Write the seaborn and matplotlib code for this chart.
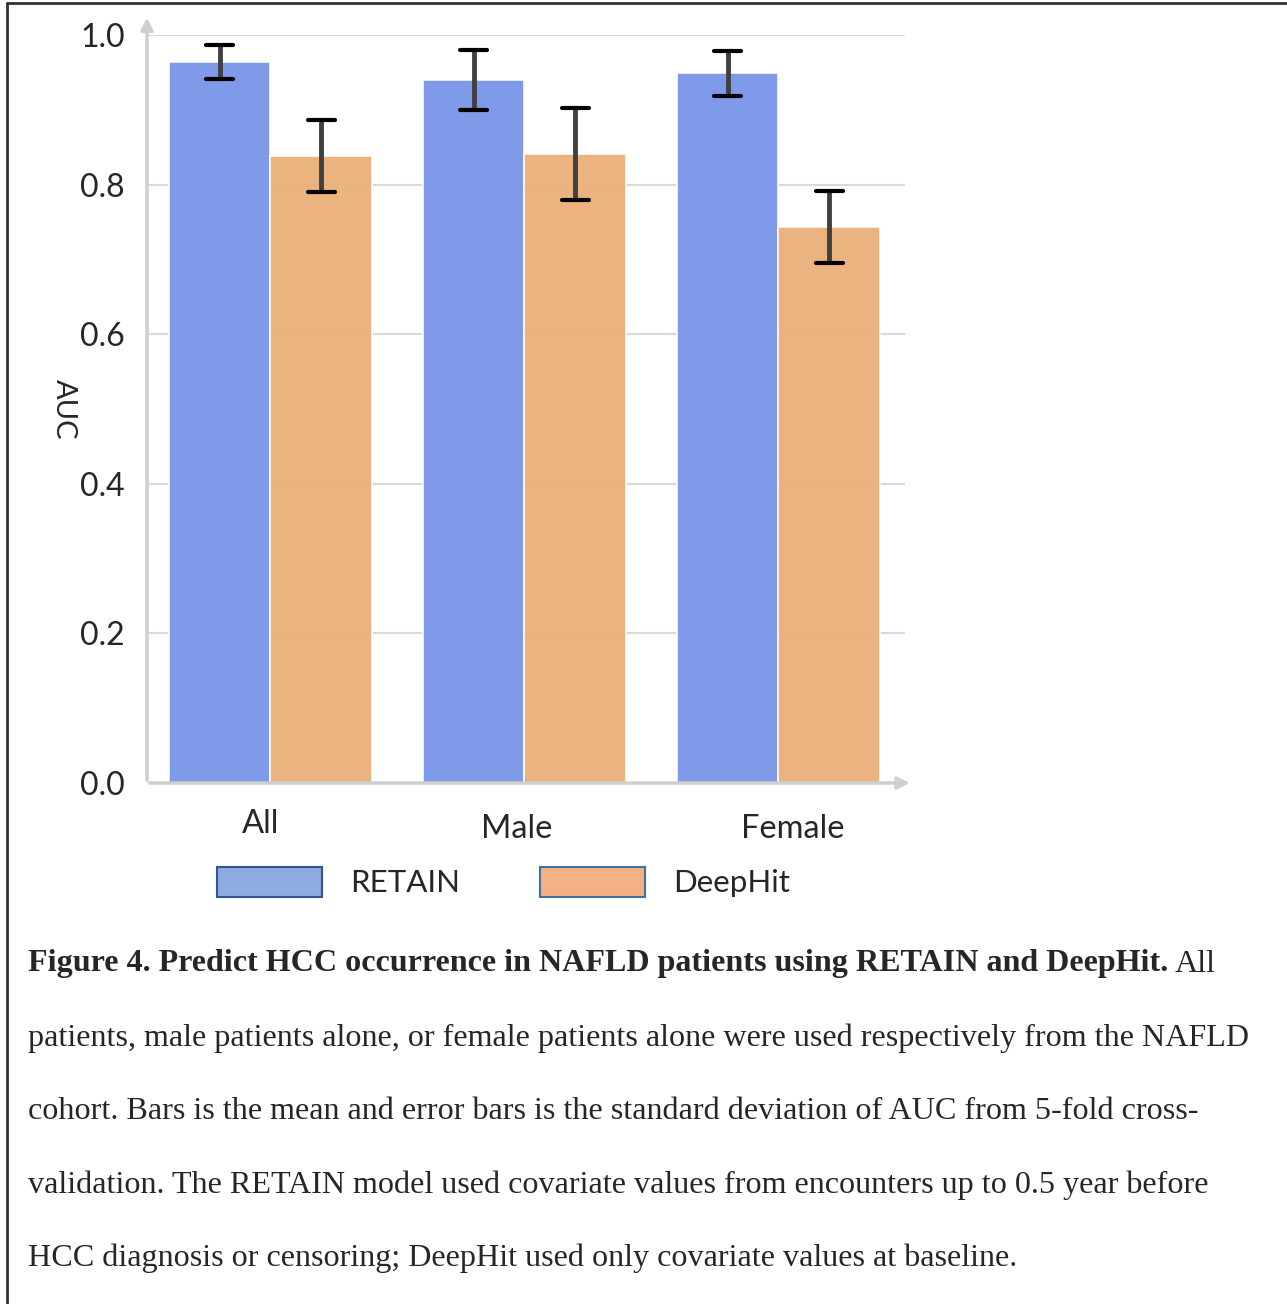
import pandas as pd
import numpy as np
import matplotlib
matplotlib.use("Agg")
import matplotlib.pyplot as plt
from matplotlib.patches import Patch
from matplotlib.lines import Line2D
import seaborn as sns

# data
groups = ["All", "Male", "Female"]
models = ["RETAIN", "DeepHit"]
retain_mean = [0.964, 0.940, 0.949]
retain_sd = [0.023, 0.040, 0.030]
deephit_mean = [0.838, 0.841, 0.743]
deephit_sd = [0.048, 0.061, 0.048]
y_ticks = [0.0, 0.2, 0.4, 0.6, 0.8, 1.0]

caption_bold = "Figure 4. Predict HCC occurrence in NAFLD patients using RETAIN and DeepHit."
caption_lines = [
    "All",
    "patients, male patients alone, or female patients alone were used respectively from the NAFLD",
    "cohort. Bars is the mean and error bars is the standard deviation of AUC from 5-fold cross-",
    "validation. The RETAIN model used covariate values from encounters up to 0.5 year before",
    "HCC diagnosis or censoring; DeepHit used only covariate values at baseline.",
]

df = pd.DataFrame({
    "group": groups * 2,
    "model": [models[0]] * 3 + [models[1]] * 3,
    "auc": retain_mean + deephit_mean,
    "sd": retain_sd + deephit_sd,
})

sns.set_theme(style="white")
plt.rcParams["font.family"] = ["Lato", "DejaVu Sans"]

W, H = 1287, 1304
fig = plt.figure(figsize=(W / 100, H / 100), dpi=100)
ax = fig.add_axes([147 / W, 1 - 783 / H, (905 - 147) / W, (783 - 35) / H])

bar_colors = {"RETAIN": "#7b96ea", "DeepHit": "#ebb07a"}
sns.barplot(data=df, x="group", y="auc", hue="model", order=groups,
            hue_order=models, palette=bar_colors, saturation=1, errorbar=None,
            width=0.8, edgecolor="white", linewidth=1.2, alpha=0.96,
            legend=False, ax=ax, zorder=2)

# error bars from the bar centres
for model, patches in zip(models, ax.containers):
    sub = df[df["model"] == model].set_index("group").loc[groups]
    xs = [p.get_x() + p.get_width() / 2 for p in patches]
    ax.errorbar(xs, sub["auc"], yerr=sub["sd"], fmt="none",
                ecolor="#404040", elinewidth=3.5, capsize=0, zorder=4)
    for x, m, s in zip(xs, sub["auc"], sub["sd"]):
        for yy in (m - s, m + s):
            ax.plot([x - 0.053, x + 0.053], [yy, yy], color="black",
                    lw=3, solid_capstyle="round", zorder=5)

ax.set_xlim(-0.486, 2.498)
ax.set_ylim(0, 1.0)
ax.set_yticks(y_ticks)
ax.set_yticklabels([f"{t:.1f}" for t in y_ticks], fontsize=23)
ax.set_xticklabels(groups, fontsize=23.5)
ax.tick_params(axis="y", length=0, pad=16)
ax.tick_params(axis="x", length=0, pad=19)
# the category labels sit a little off the group centres in the original
offsets = [(-0.04, 0.0), (-0.03, -0.05), (0.055, -0.05)]
for lab, (dx, dy) in zip(ax.get_xticklabels(), offsets):
    lab.set_transform(lab.get_transform() + matplotlib.transforms.ScaledTranslation(
        dx * 254 / 100, dy, fig.dpi_scale_trans))
ax.set_xlabel("")
ax.set_ylabel("AUC", rotation=270, va="center", fontsize=21)
ax.yaxis.set_label_coords(-0.11, 0.5)

ax.grid(axis="y", color="#d9d9d9", lw=1.5, zorder=1)
ax.set_axisbelow(True)
for sp in ax.spines.values():
    sp.set_visible(False)

# axis lines with arrow heads
ax.annotate("", xy=(0, 1.027), xytext=(0, 0), xycoords="axes fraction",
            arrowprops=dict(arrowstyle="-|>,head_length=0.6,head_width=0.3",
                            color="#cfcfcf", lw=2.5), annotation_clip=False)
ax.annotate("", xy=(1.01, 0), xytext=(0, 0), xycoords="axes fraction",
            arrowprops=dict(arrowstyle="-|>,head_length=0.6,head_width=0.3",
                            color="#cfcfcf", lw=2.5), annotation_clip=False)

# legend with its own swatches
handles = [Patch(facecolor="#8faadc", edgecolor="#2f5597", lw=1.5),
           Patch(facecolor="#f4b183", edgecolor="#41719c", lw=1.5)]
fig.legend(handles, models, loc="center left", bbox_to_anchor=(189 / W, 1 - 882 / H),
           ncol=2, frameon=False, fontsize=22.5, handlelength=3.36, handleheight=1.12,
           handletextpad=0.9, columnspacing=2.55)

# caption
cap_font = dict(family=["Liberation Serif", "DejaVu Serif"], fontsize=23.1)
t0 = fig.text(28 / W, 1 - 964 / H, caption_bold, fontweight="bold", va="center", **cap_font)
fig.canvas.draw()
bb = t0.get_window_extent()
fig.text(bb.x1 / W + 6 / W, 1 - 964 / H, caption_lines[0], va="center", **cap_font)
for i, line in enumerate(caption_lines[1:]):
    fig.text(28 / W, 1 - (1038 + i * 73.5) / H, line, va="center", **cap_font)

# page border (top and left)
fig.add_artist(Line2D([7 / W, 7 / W], [0, 1 - 3 / H], color="#333333", lw=2))
fig.add_artist(Line2D([7 / W, 1], [1 - 3 / H, 1 - 3 / H], color="#333333", lw=2))

fig.savefig("out.png", dpi=100)
